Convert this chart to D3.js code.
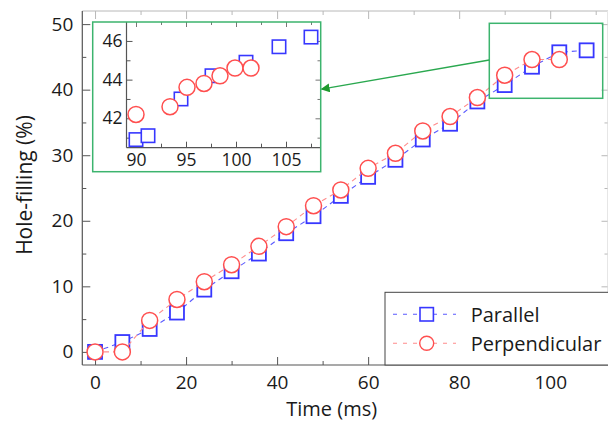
<!DOCTYPE html>
<html><head><meta charset="utf-8">
<script src="https://cdn.jsdelivr.net/npm/d3@7/dist/d3.min.js"></script>
<style>body{margin:0;background:#fff;}svg{display:block;font-family:"Open Sans",sans-serif;}</style>
</head><body>
<script>
// ---- data ----
const timeParallel = [0,6,12,18,24,30,36,42,48,54,60,66,72,78,84,90,96,102,108];
const fillParallel = [0,1.5,3.5,6.0,9.5,12.3,15.0,18.1,20.7,23.8,26.7,29.3,32.4,34.8,38.2,40.7,43.5,45.7,46.0];
const timePerp = [0,6,12,18,24,30,36,42,48,54,60,66,72,78,84,90,96,102];
const fillPerp = [0,0,4.8,8.0,10.7,13.3,16.1,19.1,22.3,24.7,28.0,30.3,33.7,35.9,38.8,42.2,44.6,44.6];
const insetTimeParallel = [90,91.2,94.5,97.6,101.0,104.3,107.5];
const insetFillParallel = [40.9,41.1,43.0,44.2,44.9,45.7,46.2];
const insetTimePerp = [90,93.4,95.1,96.8,98.4,99.9,101.5];
const insetFillPerp = [42.2,42.6,43.6,43.8,44.2,44.6,44.6];
const xTicks = [0,20,40,60,80,100];
const xMinor = [10,30,50,70,90,110];
const yTicks = [0,10,20,30,40,50];
const yMinor = [5,15,25,35,45];
const insetXTicks = [90,95,100,105];
const insetXMinor = [92.5,97.5,102.5,107.5];
const insetYTicks = [42,44,46];
const insetYMinor = [41,43,45];
const seriesNames = ["Parallel","Perpendicular"];

const W=608,H=423;
const svg=d3.select("body").append("svg").attr("width",W).attr("height",H);

const BLUE="#3737ff", RED="#ff4f4f", BLUE_L="#5a5aff", RED_L="#ff8c8c", GREEN="#3cb46e", AXIS="#555", LIGHT="#b8b8b8";
const fmt=d3.format("d");

const x=d3.scaleLinear().domain([-2.8,112.7]).range([82.3,608]);
const y=d3.scaleLinear().domain([-2,52]).range([365,11]);

function styleAxis(g,color,fs){
  g.select(".domain").remove();
  g.selectAll(".tick line").attr("stroke",color);
  g.selectAll(".tick text").attr("fill","#1a1a1a").style("font-size",fs+"px").style("font-family","'Open Sans',sans-serif");
}
// frame lines
svg.append("line").attr("x1",82.3).attr("x2",608).attr("y1",11).attr("y2",11).attr("stroke",LIGHT);
svg.append("line").attr("x1",607.5).attr("x2",607.5).attr("y1",11).attr("y2",365).attr("stroke","#e6e6e6");
// bottom axis
svg.append("g").attr("transform","translate(0,365)").call(d3.axisBottom(x).tickValues(xTicks).tickSize(-8).tickPadding(11).tickFormat(fmt)).call(g=>styleAxis(g,AXIS,19));
svg.append("g").attr("transform","translate(0,365)").call(d3.axisBottom(x).tickValues(xMinor).tickSize(-4).tickFormat("")).call(g=>styleAxis(g,AXIS,19));
// top ticks
svg.append("g").attr("transform","translate(0,11)").call(d3.axisTop(x).tickValues(xTicks).tickSize(-8).tickFormat("")).call(g=>styleAxis(g,LIGHT,19));
svg.append("g").attr("transform","translate(0,11)").call(d3.axisTop(x).tickValues(xMinor).tickSize(-4).tickFormat("")).call(g=>styleAxis(g,LIGHT,19));
// left axis
svg.append("g").attr("transform","translate(82.3,0)").call(d3.axisLeft(y).tickValues(yTicks).tickSize(-8).tickPadding(9).tickFormat(fmt)).call(g=>styleAxis(g,AXIS,19));
svg.append("g").attr("transform","translate(82.3,0)").call(d3.axisLeft(y).tickValues(yMinor).tickSize(-4).tickFormat("")).call(g=>styleAxis(g,AXIS,19));
// right ticks
svg.append("g").attr("transform","translate(607.5,0)").call(d3.axisRight(y).tickValues(yTicks).tickSize(-6).tickFormat("")).call(g=>styleAxis(g,LIGHT,19));
svg.append("g").attr("transform","translate(607.5,0)").call(d3.axisRight(y).tickValues(yMinor).tickSize(-3).tickFormat("")).call(g=>styleAxis(g,LIGHT,19));
svg.append("line").attr("x1",82.3).attr("x2",82.3).attr("y1",11).attr("y2",365).attr("stroke",AXIS).attr("stroke-width",1.2);
svg.append("line").attr("x1",82.3).attr("x2",608).attr("y1",365).attr("y2",365).attr("stroke",AXIS).attr("stroke-width",1.2);

// titles
svg.append("text").attr("x",331.7).attr("y",415.7).attr("text-anchor","middle").style("font-size","20px").attr("fill","#1a1a1a").text("Time (ms)");
svg.append("text").attr("transform","translate(31.5,185) rotate(-90)").attr("text-anchor","middle").style("font-size","21px").attr("fill","#1a1a1a").text("Hole-filling (%)");

// data
const par=timeParallel.map((t,i)=>({t,v:fillParallel[i]}));
const per=timePerp.map((t,i)=>({t,v:fillPerp[i]}));
const line=d3.line().x(d=>x(d.t)).y(d=>y(d.v));
const SQ=14, R=8;
svg.append("path").datum(par).attr("d",line).attr("fill","none").attr("stroke",BLUE_L).attr("stroke-width",1.1).attr("stroke-dasharray","5,4");
svg.append("g").selectAll("rect").data(par).join("rect")
  .attr("x",d=>x(d.t)-SQ/2).attr("y",d=>y(d.v)-SQ/2).attr("width",SQ).attr("height",SQ)
  .attr("fill","#fff").attr("stroke",BLUE).attr("stroke-width",1.8);
svg.append("path").datum(per).attr("d",line).attr("fill","none").attr("stroke",RED_L).attr("stroke-width",1.1).attr("stroke-dasharray","5,4");
svg.append("g").selectAll("circle").data(per).join("circle")
  .attr("cx",d=>x(d.t)).attr("cy",d=>y(d.v)).attr("r",R)
  .attr("fill","#fff").attr("stroke",RED).attr("stroke-width",1.5);

// legend
const lg=svg.append("g");
lg.append("rect").attr("x",385).attr("y",292.3).attr("width",240).attr("height",72.7).attr("fill","#fff").attr("stroke","#444").attr("stroke-width",1);
const rows=[{cy:314.3,base:321.7,c:BLUE_L,k:"sq"},{cy:343.3,base:351,c:RED_L,k:"ci"}];
rows.forEach((r,i)=>{
  lg.append("line").attr("x1",393).attr("x2",456).attr("y1",r.cy).attr("y2",r.cy).attr("stroke",r.c).attr("stroke-width",1.1).attr("stroke-dasharray","4,6");
  if(r.k==="sq") lg.append("rect").attr("x",426.7-6.7).attr("y",r.cy-6.7).attr("width",13.4).attr("height",13.4).attr("fill","#fff").attr("stroke",BLUE).attr("stroke-width",1.6);
  else lg.append("circle").attr("cx",426.7).attr("cy",r.cy).attr("r",7).attr("fill","#fff").attr("stroke",RED).attr("stroke-width",1.4);
  lg.append("text").attr("x",470.7).attr("y",r.base).style("font-size","20px").attr("fill","#1a1a1a").text(seriesNames[i]);
});

// zoom box and arrow
svg.append("defs").append("marker").attr("id","ah").attr("viewBox","0 0 10 10").attr("refX",9).attr("refY",5)
  .attr("markerWidth",9).attr("markerHeight",9).attr("markerUnits","userSpaceOnUse").attr("orient","auto")
  .append("path").attr("d","M0,0 L10,5 L0,10 Z").attr("fill","#1f9a2e");
svg.append("rect").attr("x",489.3).attr("y",23.3).attr("width",113.4).attr("height",75).attr("fill","none").attr("stroke",GREEN).attr("stroke-width",1.5);
svg.append("line").attr("x1",489.3).attr("y1",60).attr("x2",321.5).attr("y2",89.2).attr("stroke","#2aa84f").attr("stroke-width",1.3).attr("marker-end","url(#ah)");

// inset
const ix=d3.scaleLinear().domain([89.05,108.45]).range([126.5,320.5]);
const iy=d3.scaleLinear().domain([40.48,46.98]).range([147.7,22]);
const ins=svg.append("g");
ins.append("rect").attr("x",92.7).attr("y",22).attr("width",228).attr("height",149.7).attr("fill","#fff");
ins.append("g").attr("transform","translate(0,147.7)").call(d3.axisBottom(ix).tickValues(insetXTicks).tickSize(-6).tickPadding(6).tickFormat(fmt)).call(g=>styleAxis(g,AXIS,17.5));
ins.append("g").attr("transform","translate(0,147.7)").call(d3.axisBottom(ix).tickValues(insetXMinor).tickSize(-4).tickFormat("")).call(g=>styleAxis(g,AXIS,17.5));
ins.append("g").attr("transform","translate(0,22)").call(d3.axisTop(ix).tickValues(insetXTicks).tickSize(-5).tickFormat("")).call(g=>styleAxis(g,"#777",17.5));
ins.append("g").attr("transform","translate(0,22)").call(d3.axisTop(ix).tickValues(insetXMinor).tickSize(-3).tickFormat("")).call(g=>styleAxis(g,"#777",17.5));
ins.append("g").attr("transform","translate(126.5,0)").call(d3.axisLeft(iy).tickValues(insetYTicks).tickSize(-6).tickPadding(4).tickFormat(fmt)).call(g=>styleAxis(g,AXIS,17.5));
ins.append("g").attr("transform","translate(126.5,0)").call(d3.axisLeft(iy).tickValues(insetYMinor).tickSize(-4).tickFormat("")).call(g=>styleAxis(g,AXIS,17.5));
ins.append("g").attr("transform","translate(320.5,0)").call(d3.axisRight(iy).tickValues(insetYTicks).tickSize(-5).tickFormat("")).call(g=>styleAxis(g,"#777",17.5));
ins.append("g").attr("transform","translate(320.5,0)").call(d3.axisRight(iy).tickValues(insetYMinor).tickSize(-3).tickFormat("")).call(g=>styleAxis(g,"#777",17.5));
ins.append("line").attr("x1",126.5).attr("x2",126.5).attr("y1",22).attr("y2",147.7).attr("stroke",AXIS).attr("stroke-width",1.2);
ins.append("line").attr("x1",126.5).attr("x2",320.5).attr("y1",147.7).attr("y2",147.7).attr("stroke",AXIS).attr("stroke-width",1.2);
const ipar=insetTimeParallel.map((t,i)=>({t,v:insetFillParallel[i]}));
const iper=insetTimePerp.map((t,i)=>({t,v:insetFillPerp[i]}));
ins.append("g").selectAll("rect").data(ipar).join("rect")
  .attr("x",d=>ix(d.t)-6.7).attr("y",d=>iy(d.v)-6.7).attr("width",13.4).attr("height",13.4)
  .attr("fill","#fff").attr("stroke",BLUE).attr("stroke-width",1.6);
ins.append("g").selectAll("circle").data(iper).join("circle")
  .attr("cx",d=>ix(d.t)).attr("cy",d=>iy(d.v)).attr("r",8)
  .attr("fill","#fff").attr("stroke",RED).attr("stroke-width",1.5);
ins.append("rect").attr("x",92.7).attr("y",22).attr("width",228).attr("height",149.7).attr("fill","none").attr("stroke",GREEN).attr("stroke-width",1.5);
</script>
</body></html>
